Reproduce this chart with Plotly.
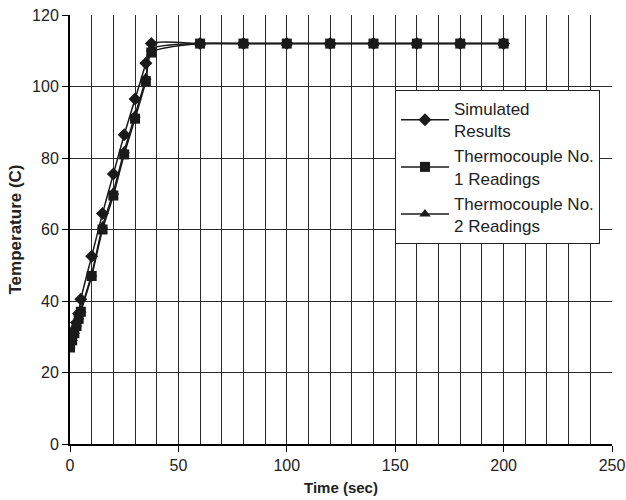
import plotly.graph_objects as go

time_sim = [0, 1, 2, 3, 4, 5, 10, 15, 20, 25, 30, 35, 37.5, 60, 80, 100, 120, 140, 160, 180, 200]
temp_sim = [28, 30, 32, 34, 36.5, 40.5, 52.5, 64.5, 75.5, 86.5, 96.5, 106.5, 112, 112, 112, 112, 112, 112, 112, 112, 112]

time_tc1 = [0, 1, 2, 3, 4, 5, 10, 15, 20, 25, 30, 35, 37.5, 60, 80, 100, 120, 140, 160, 180, 200]
temp_tc1 = [27, 29, 31, 33, 35, 37, 47, 60, 69.5, 81, 91, 101.5, 109.5, 112, 112, 112, 112, 112, 112, 112, 112]

time_tc2 = [0, 1, 2, 3, 4, 5, 10, 15, 20, 25, 30, 35, 37.5, 60, 80, 100, 120, 140, 160, 180, 200]
temp_tc2 = [27.5, 29.5, 31.5, 33.5, 35.5, 37.5, 47.5, 61, 70.5, 82, 92, 102.5, 110.5, 112, 112, 112, 112, 112, 112, 112, 112]

names = ["Simulated<br>Results", "Thermocouple No.<br>1 Readings", "Thermocouple No.<br>2 Readings"]
symbols = ["diamond", "square", "triangle-up"]

FONT = "Liberation Sans, Arial, sans-serif"
INK = "#1a1a1a"

fig = go.Figure()
for t, v, n, s in zip([time_sim, time_tc1, time_tc2], [temp_sim, temp_tc1, temp_tc2], names, symbols):
    fig.add_trace(go.Scatter(
        x=t, y=v, name=n, mode="lines+markers",
        line=dict(color=INK, width=1.5, shape="spline", smoothing=0.6),
        marker=dict(symbol=s, size=10, color=INK),
    ))

axis_common = dict(
    showgrid=True, gridcolor="#2a2a2a", gridwidth=1,
    showline=True, linecolor="black", linewidth=2,
    ticks="outside", ticklen=6, tickcolor="black", tickwidth=1,
    zeroline=False, automargin=False,
    tickfont=dict(family=FONT, size=16, color="#222222"),
)

fig.update_xaxes(range=[0, 250], dtick=50, **axis_common,
                 minor=dict(dtick=10, showgrid=True, gridcolor="#2a2a2a", gridwidth=1),
                 title=dict(text="<b>Time (sec)</b>", font=dict(family=FONT, size=15, color="#222222"), standoff=9))
fig.update_yaxes(range=[0, 120], dtick=20, **axis_common,
                 title=dict(text="<b>Temperature (C)</b>", font=dict(family=FONT, size=17, color="#222222"), standoff=6))

fig.update_layout(
    width=626, height=500,
    margin=dict(l=70, r=14, t=15, b=56),
    plot_bgcolor="white", paper_bgcolor="white",
    legend=dict(x=0.5996, y=0.825, xanchor="left", yanchor="top",
                bgcolor="white", bordercolor="#222222", borderwidth=1,
                font=dict(family=FONT, size=17, color="#222222"),
                tracegroupgap=4, itemwidth=48),
    showlegend=True,
)

fig.write_html("out.html", config={"displayModeBar": False},
               post_script="document.body.style.margin='0';")
